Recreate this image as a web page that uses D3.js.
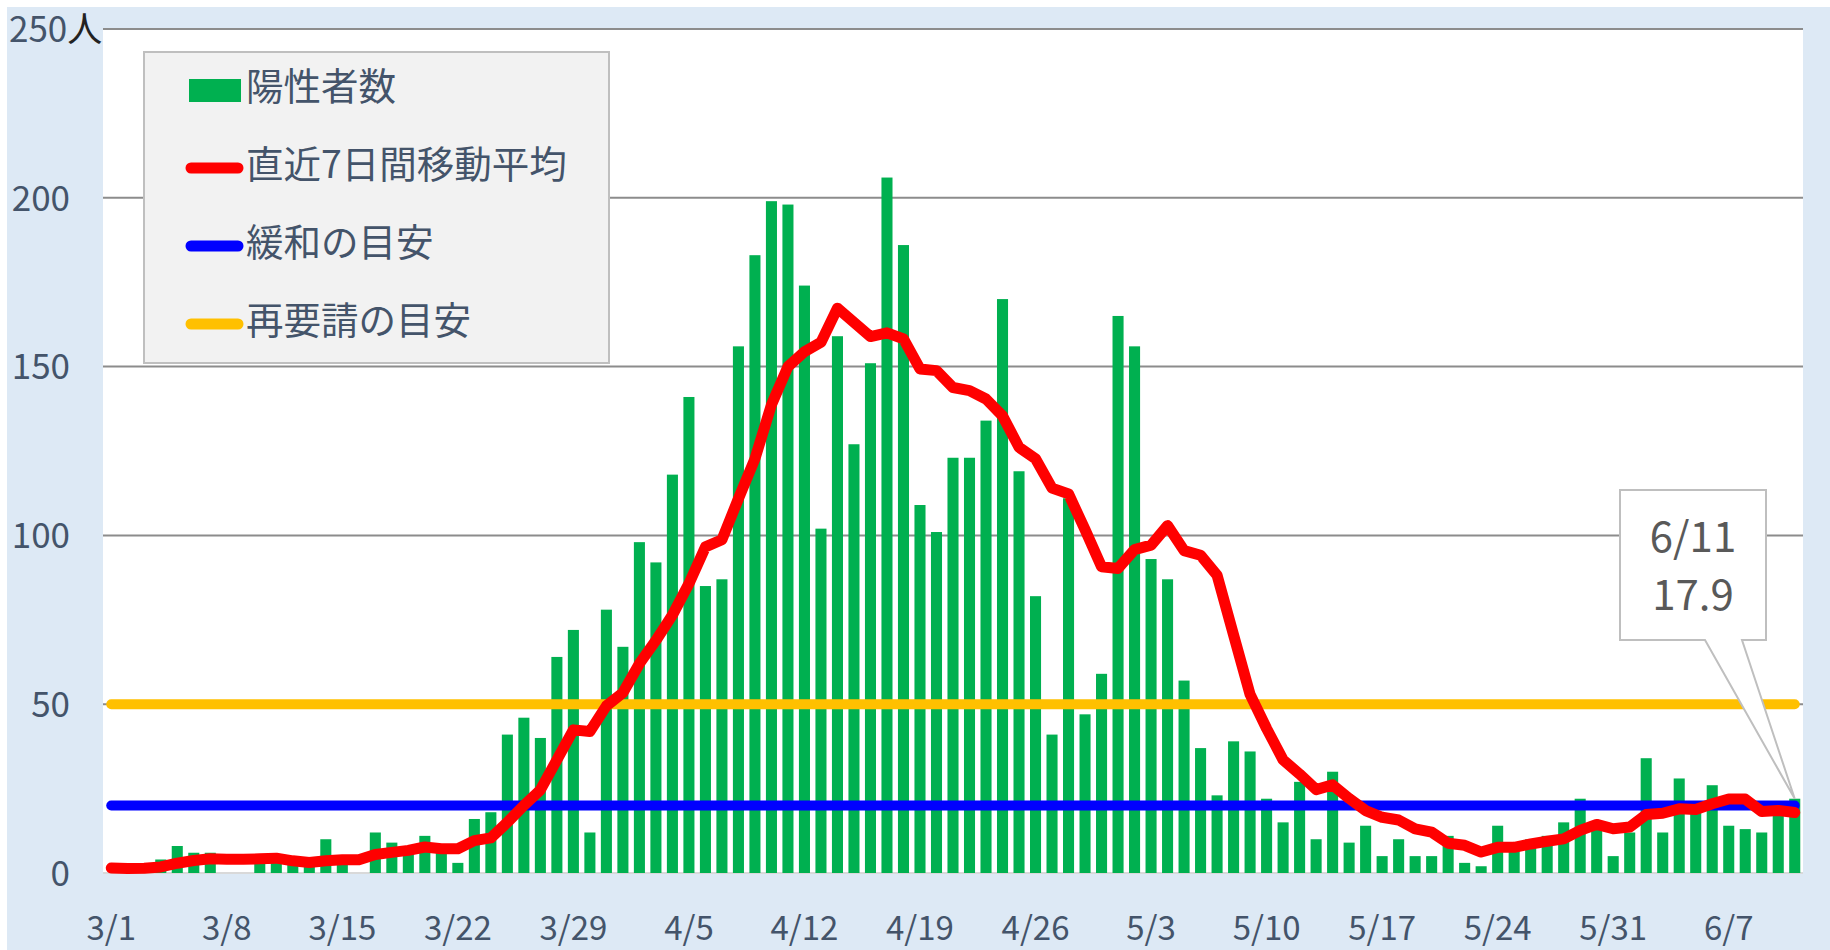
<!DOCTYPE html>
<html>
<head>
<meta charset="utf-8">
<script src="https://cdn.jsdelivr.net/npm/d3@7"></script>
<style>
  body { margin: 0; background: #fff; }
  text { font-family: "Noto Sans CJK JP", "Noto Sans", sans-serif; }
</style>
</head>
<body>
<svg id="chart" width="1830" height="950"></svg>
<script>
// 陽性者数 (3/1 - 6/11)
const positives = [
  0, 1, 1, 4, 8, 6, 6, 0, 0, 3, 5, 3, 3, 10, 4, 0, 12, 9, 7, 11, 7,
  3, 16, 18, 41, 46, 40, 64, 72, 12, 78,
  67, 98, 92, 118, 141, 85, 87, 156, 183, 199, 198, 174, 102, 159, 127, 151, 206, 186, 109, 101,
  123, 123, 134, 170, 119, 82, 41, 111, 47, 59,
  165, 156, 93, 87, 57, 37, 23, 39, 36, 22, 15, 27, 10, 30, 9, 14, 5, 10, 5, 5,
  11, 3, 2, 14, 8, 10, 11, 15, 22, 14, 5,
  12, 34, 12, 28, 20, 26, 14, 13, 12, 18, 22
];
// 直近7日間移動平均
const movingAvg = [
  1.5, 1.3, 1.4, 1.8, 2.9, 3.7, 4.2, 4.1, 4.1, 4.2, 4.4, 3.6, 3.1, 3.6, 3.9, 3.9, 5.5, 6.1, 6.7, 7.7, 7.2,
  7.2, 9.6, 10.4, 15.0, 20.0, 24.6, 33.5, 42.4, 41.9, 49.5,
  53.4, 62.0, 68.9, 76.4, 85.7, 96.6, 98.7, 110.9, 122.7, 138.7, 150.0, 154.4, 157.2, 167.3, 163.1, 158.9, 160.0, 158.2, 149.3, 148.8,
  143.8, 142.9, 140.4, 135.4, 126.1, 122.7, 114.0, 112.3, 101.7, 90.7,
  90.2, 95.8, 97.1, 102.9, 95.5, 94.1, 88.2, 70.5, 52.9, 42.8, 33.5, 29.3, 24.7, 26.1, 22.1, 18.5, 16.5, 15.7, 13.1, 12.1,
  8.8, 8.2, 6.2, 7.6, 7.6, 8.6, 9.4, 10.1, 12.6, 14.4, 13.1,
  13.6, 17.3, 17.7, 19.0, 18.8, 20.5, 21.9, 21.9, 18.2, 18.5, 17.9
];
const relaxLevel = 20;     // 緩和の目安
const requestLevel = 50;   // 再要請の目安
const yTicks = [0, 50, 100, 150, 200, 250];
const xTickLabels = ["3/1", "3/8", "3/15", "3/22", "3/29", "4/5", "4/12", "4/19", "4/26", "5/3", "5/10", "5/17", "5/24", "5/31", "6/7"];
const legendLabels = ["陽性者数", "直近7日間移動平均", "緩和の目安", "再要請の目安"];
const calloutText = ["6/11", "17.9"];

// 日付のカテゴリ
const start = new Date(2020, 2, 1);
const days = d3.timeDay.range(start, d3.timeDay.offset(start, positives.length));
const fmt = d => (d.getMonth() + 1) + "/" + d.getDate();
const categories = days.map(fmt);

const svg = d3.select("#chart");
const W = 1830, H = 950;
const plot = { left: 103, right: 1803, top: 29, bottom: 873 };
const textColor = "#44546a";

// fond bleu clair
svg.append("rect").attr("x", 7).attr("y", 7).attr("width", W - 7).attr("height", H - 7).attr("fill", "#dde9f5");
svg.append("rect").attr("x", plot.left).attr("y", plot.top)
  .attr("width", plot.right - plot.left).attr("height", plot.bottom - plot.top).attr("fill", "#fff");

const x = d3.scaleBand().domain(categories).range([plot.left, plot.right])
  .paddingInner(0.33).paddingOuter(0.165);
const y = d3.scaleLinear().domain([0, 250]).range([plot.bottom, plot.top]);
const cx = c => x(c) + x.bandwidth() / 2;

// grille
svg.append("g").selectAll("line").data(yTicks).join("line")
  .attr("x1", plot.left).attr("x2", plot.right)
  .attr("y1", d => y(d)).attr("y2", d => y(d))
  .attr("stroke", d => d === 0 ? "#d9d9d9" : "#8c8c8c")
  .attr("stroke-width", 2);

// axe Y
const yAxis = svg.append("g").attr("transform", "translate(70,0)")
  .call(d3.axisLeft(y).tickValues(yTicks).tickSize(0).tickPadding(0));
yAxis.select(".domain").remove();
yAxis.selectAll("text")
  .attr("font-size", 35).attr("fill", textColor)
  .attr("font-family", "\"Noto Sans CJK JP\", sans-serif")
  .attr("text-anchor", "end").attr("dy", "0.35em");
const top250 = yAxis.selectAll(".tick").filter(d => d === 250).select("text");
top250.append("tspan").attr("fill", "#222").text("人");
top250.attr("text-anchor", "start").attr("x", -61);

// axe X
const xAxis = svg.append("g").attr("transform", "translate(0," + plot.bottom + ")")
  .call(d3.axisBottom(x).tickValues(xTickLabels).tickSize(0).tickPadding(0));
xAxis.select(".domain").remove();
xAxis.selectAll("text")
  .attr("y", 55).attr("dy", "0.35em")
  .attr("font-size", 33).attr("fill", textColor)
  .attr("font-family", "\"Noto Sans CJK JP\", sans-serif");

// barres
svg.append("g").selectAll("rect").data(positives).join("rect")
  .attr("x", (d, i) => x(categories[i]))
  .attr("y", d => y(d))
  .attr("width", x.bandwidth())
  .attr("height", d => y(0) - y(d))
  .attr("fill", "#00b050");

// seuils
[[relaxLevel, "#0000ff"], [requestLevel, "#ffc000"]].forEach(([v, col]) => {
  svg.append("line")
    .attr("x1", cx(categories[0])).attr("x2", cx(categories[categories.length - 1]))
    .attr("y1", y(v)).attr("y2", y(v))
    .attr("stroke", col).attr("stroke-width", 10).attr("stroke-linecap", "round");
});

// moyenne mobile
const line = d3.line()
  .x((d, i) => cx(categories[i]))
  .y(d => y(d));
svg.append("path").datum(movingAvg)
  .attr("fill", "none").attr("stroke", "#ff0000")
  .attr("stroke-width", 11)
  .attr("stroke-linejoin", "round").attr("stroke-linecap", "round")
  .attr("d", line);

// légende
const lg = svg.append("g");
lg.append("rect").attr("x", 144).attr("y", 52).attr("width", 465).attr("height", 311)
  .attr("fill", "#f2f2f2").attr("stroke", "#bfbfbf").attr("stroke-width", 2);
const legendColors = ["#00b050", "#ff0000", "#0000ff", "#ffc000"];
legendLabels.forEach((t, i) => {
  const yy = 87 + i * 78;
  if (i === 0) {
    lg.append("rect").attr("x", 189).attr("y", yy - 8).attr("width", 52).attr("height", 23).attr("fill", legendColors[i]);
  } else {
    lg.append("line").attr("x1", 191).attr("x2", 238).attr("y1", yy + 3).attr("y2", yy + 3)
      .attr("stroke", legendColors[i]).attr("stroke-width", 11).attr("stroke-linecap", "round");
  }
  lg.append("text").attr("x", 246).attr("y", yy).attr("dy", "0.35em")
    .attr("font-size", 37.5).attr("fill", textColor).text(t);
});

// bulle 6/11
const last = categories.length - 1;
const tipX = cx(categories[last]), tipY = y(positives[last]);
const box = { x: 1620, y: 490, w: 146, h: 150 };
svg.append("path")
  .attr("d", "M" + box.x + "," + box.y + "H" + (box.x + box.w) + "V" + (box.y + box.h) +
    "H" + (box.x + 122) + "L" + tipX + "," + tipY + "L" + (box.x + 85) + "," + (box.y + box.h) +
    "H" + box.x + "Z")
  .attr("fill", "#fff").attr("stroke", "#bfbfbf").attr("stroke-width", 2);
calloutText.forEach((t, i) => {
  svg.append("text").attr("x", box.x + box.w / 2).attr("y", 537 + i * 58).attr("dy", "0.35em")
    .attr("text-anchor", "middle").attr("font-size", 42).attr("fill", "#595959").text(t);
});
</script>
</body>
</html>
